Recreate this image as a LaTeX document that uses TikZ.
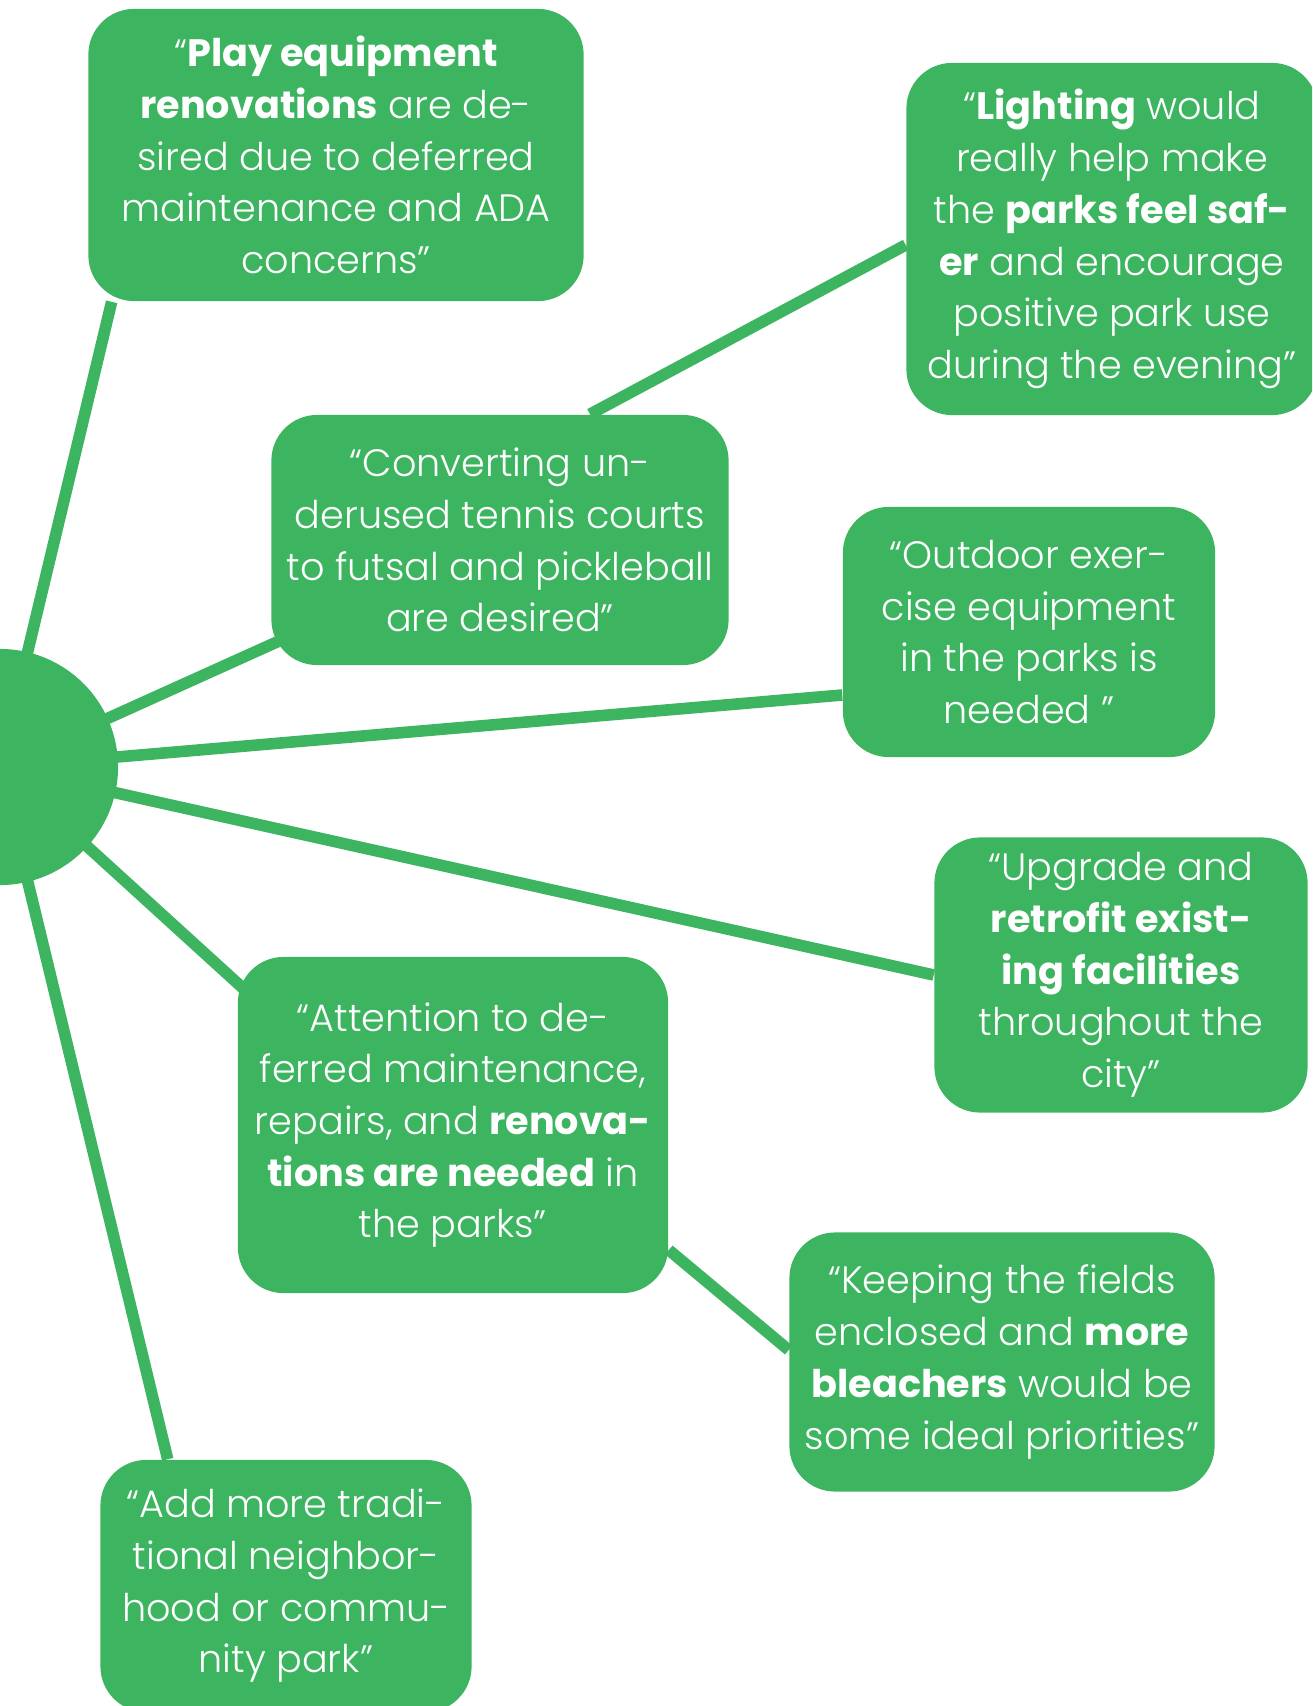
\documentclass[tikz,border=0pt]{standalone}
\usepackage{fontspec}
\setmainfont{Poppins}[UprightFont=* Light, BoldFont=* Bold]
\usetikzlibrary{positioning,calc,backgrounds}
\definecolor{parkgreen}{RGB}{61,181,96}
\tikzset{
  quotebox/.style={fill=parkgreen, text=white, rounded corners=13pt, align=center, inner sep=0pt, font=\fontsize{10.85}{14.7}\selectfont},
  hubnode/.style={circle, fill=parkgreen, minimum size=2.36cm, inner sep=0pt},
  linkline/.style={draw=parkgreen, line width=3.3pt}
}
\begin{document}
\begin{tikzpicture}[x=0.01cm, y=-0.01cm]
  \useasboundingbox (0,0) rectangle (1312,1706);
  \clip (0,0) rectangle (1312,1706);
  \node[hubnode] (hub) at (0,767) {};
  \node[quotebox, minimum width=4.95cm, minimum height=2.92cm] (play) at (336,155)
    {“\textbf{Play equipment}\\ \textbf{renovations} are de-\\ sired due to deferred\\ maintenance and ADA\\ concerns”};
  \node[quotebox, minimum width=4.11cm, minimum height=3.52cm] (light) at (1112,239)
    {“\textbf{Lighting} would\\ really help make\\ the \textbf{parks feel saf-}\\ \textbf{er} and encourage\\ positive park use\\ during the evening”};
  \node[quotebox, minimum width=4.57cm, minimum height=2.50cm] (conv) at (500,540)
    {“Converting un-\\ derused tennis courts\\ to futsal and pickleball\\ are desired”};
  \node[quotebox, minimum width=3.72cm, minimum height=2.50cm] (outdr) at (1029,632)
    {“Outdoor exer-\\ cise equipment\\ in the parks is\\ needed ”};
  \node[quotebox, minimum width=3.73cm, minimum height=2.75cm] (upgr) at (1121,975)
    {“Upgrade and\\ \textbf{retrofit exist-}\\ \textbf{ing facilities}\\ throughout the\\ city”};
  \node[quotebox, minimum width=4.30cm, minimum height=3.36cm] (attn) at (453,1125)
    {“Attention to de-\\ ferred maintenance,\\ repairs, and \textbf{renova-}\\ \textbf{tions are needed} in\\ the parks”};
  \node[quotebox, minimum width=4.25cm, minimum height=2.59cm] (keep) at (1002,1362)
    {“Keeping the fields\\ enclosed and \textbf{more}\\ \textbf{bleachers} would be\\ some ideal priorities”};
  \node[quotebox, minimum width=3.71cm, minimum height=2.52cm] (addp) at (286,1586)
    {“Add more tradi-\\ tional neighbor-\\ hood or commu-\\ nity park”};
  % spokes behind the boxes
  \begin{scope}[on background layer]
    \draw[linkline] (hub.center) -- ($(play.south west)+(24,0)$);
    \draw[linkline] (hub.center) -- ($(conv.south west)+(20,-30)$);
    \draw[linkline] ($(conv.north)+(90,0)$) -- ($(light.west)+(0,6)$);
    \draw[linkline] (hub.center) -- ($(outdr.west)+(0,63)$);
    \draw[linkline] (hub.center) -- (upgr.west);
    \draw[linkline] (hub.center) -- ($(attn.north west)+(8,34)$);
    \draw[linkline] ($(attn.east)+(0,125)$) -- ($(keep.west)+(0,-12)$);
    \draw[linkline] (hub.center) -- ($(addp.north west)+(68,0)$);
  \end{scope}
\end{tikzpicture}
\end{document}
